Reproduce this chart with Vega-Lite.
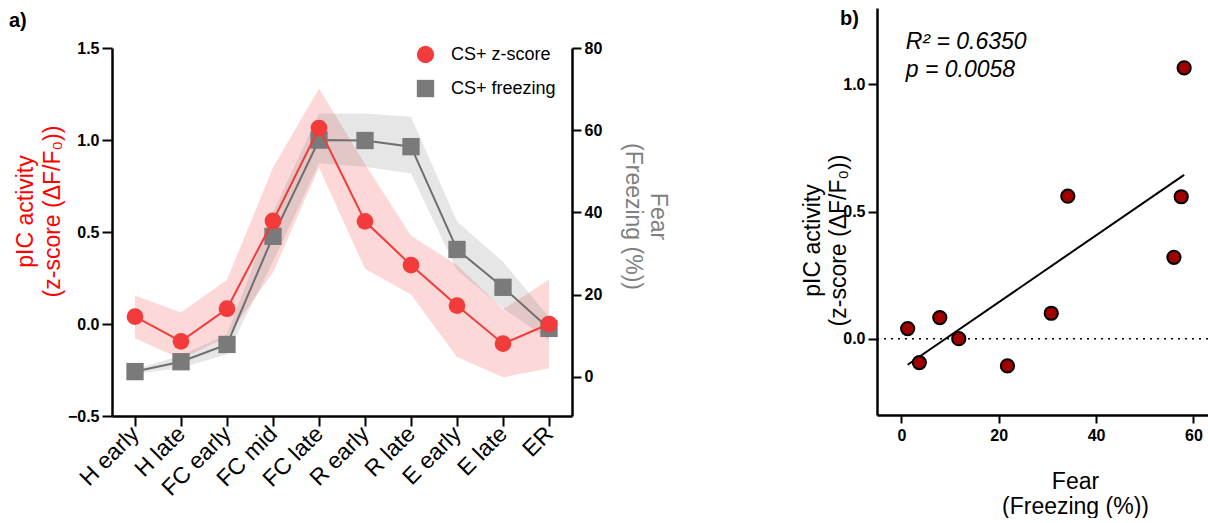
{
  "$schema": "https://vega.github.io/schema/vega-lite/v6.json",
  "padding": {"left": 9, "top": 8, "right": 0, "bottom": 0},
  "spacing": 133,
  "datasets": {
    "z": [
      {"phase": "H early", "series": "CS+ z-score", "z": 0.04, "lo": -0.078, "hi": 0.155},
      {"phase": "H late", "series": "CS+ z-score", "z": -0.094, "lo": -0.19, "hi": 0.063},
      {"phase": "FC early", "series": "CS+ z-score", "z": 0.083, "lo": -0.07, "hi": 0.24},
      {"phase": "FC mid", "series": "CS+ z-score", "z": 0.56, "lo": 0.28, "hi": 0.85},
      {"phase": "FC late", "series": "CS+ z-score", "z": 1.065, "lo": 0.85, "hi": 1.28},
      {"phase": "R early", "series": "CS+ z-score", "z": 0.558, "lo": 0.3, "hi": 0.87},
      {"phase": "R late", "series": "CS+ z-score", "z": 0.32, "lo": 0.16, "hi": 0.48},
      {"phase": "E early", "series": "CS+ z-score", "z": 0.1, "lo": -0.18, "hi": 0.32},
      {"phase": "E late", "series": "CS+ z-score", "z": -0.107, "lo": -0.29, "hi": 0.08},
      {"phase": "ER", "series": "CS+ z-score", "z": 0.0, "lo": -0.24, "hi": 0.24}
    ],
    "f": [
      {"phase": "H early", "series": "CS+ freezing", "f": 1.3, "lo": 0.8, "hi": 1.8},
      {"phase": "H late", "series": "CS+ freezing", "f": 3.7, "lo": 2.2, "hi": 5.2},
      {"phase": "FC early", "series": "CS+ freezing", "f": 7.9, "lo": 5.5, "hi": 10.3},
      {"phase": "FC mid", "series": "CS+ freezing", "f": 34.2, "lo": 28, "hi": 40},
      {"phase": "FC late", "series": "CS+ freezing", "f": 57.6, "lo": 52, "hi": 64.1},
      {"phase": "R early", "series": "CS+ freezing", "f": 57.5, "lo": 51.1, "hi": 64.1},
      {"phase": "R late", "series": "CS+ freezing", "f": 56.0, "lo": 49.5, "hi": 63.3},
      {"phase": "E early", "series": "CS+ freezing", "f": 31.0, "lo": 26, "hi": 37.8},
      {"phase": "E late", "series": "CS+ freezing", "f": 21.8, "lo": 16.7, "hi": 28},
      {"phase": "ER", "series": "CS+ freezing", "f": 11.8, "lo": 9, "hi": 14.5}
    ],
    "pairs": [
      {"phase": "H early", "fear": 1.3, "z": 0.04},
      {"phase": "H late", "fear": 3.7, "z": -0.094},
      {"phase": "FC early", "fear": 7.9, "z": 0.083},
      {"phase": "FC mid", "fear": 34.2, "z": 0.56},
      {"phase": "FC late", "fear": 58.1, "z": 1.065},
      {"phase": "R early", "fear": 57.5, "z": 0.558},
      {"phase": "R late", "fear": 56.0, "z": 0.32},
      {"phase": "E early", "fear": 30.8, "z": 0.1},
      {"phase": "E late", "fear": 21.8, "z": -0.107},
      {"phase": "ER", "fear": 11.8, "z": 0.0}
    ]
  },
  "hconcat": [
    {
      "width": 460,
      "height": 408,
      "title": {"text": "a)", "anchor": "start", "frame": "group", "orient": "top", "offset": 0, "dx": -103, "dy": 39, "baseline": "alphabetic", "fontSize": 20, "fontWeight": "bold", "font": "Liberation Sans", "color": "black"},
      "layer": [
        {
          "data": {"name": "z"},
          "mark": {"type": "area", "color": "#f23b3b", "opacity": 0.2},
          "encoding": {
            "x": {"field": "phase", "type": "ordinal", "sort": null, "scale": {"type": "point", "padding": 0.5},
              "axis": {"title": null, "labelAngle": -45, "labelAlign": "right", "labelBaseline": "middle", "labelFontSize": 23, "labelFontWeight": "normal", "labelPadding": 4, "tickSize": 10}},
            "y": {"field": "lo", "type": "quantitative", "scale": {"domain": [-0.5, 1.5], "range": [408, 40], "nice": false, "zero": false},
              "axis": {"orient": "left", "values": [-0.5, 0, 0.5, 1, 1.5], "format": ".1f", "tickSize": 10, "labelPadding": 3,
                "title": ["pIC activity", "(z-score (ΔF/F₀))"], "titleColor": "#ff0000", "titleFontSize": 23, "titleLineHeight": 27, "titleBaseline": "middle", "titleX": -87, "titleY": 203}},
            "y2": {"field": "hi"}
          }
        },
        {
          "data": {"name": "f"},
          "mark": {"type": "area", "color": "#808080", "opacity": 0.2},
          "encoding": {
            "x": {"field": "phase", "type": "ordinal", "sort": null},
            "y": {"field": "lo", "type": "quantitative", "scale": {"domain": [-9.5, 80], "range": [408, 40], "nice": false, "zero": false},
              "axis": {"orient": "right", "values": [0, 20, 40, 60, 80], "tickSize": 9, "labelPadding": 3,
                "title": ["Fear", "(Freezing (%))"], "titleColor": "#808080", "titleFontSize": 23, "titleLineHeight": 25, "titleBaseline": "middle", "titleX": 85, "titleY": 208}},
            "y2": {"field": "hi"}
          }
        },
        {
          "data": {"name": "f"},
          "mark": {"type": "line", "color": "#6e6e6e", "strokeWidth": 2},
          "encoding": {
            "x": {"field": "phase", "type": "ordinal", "sort": null},
            "y": {"field": "f", "type": "quantitative", "scale": {"domain": [-9.5, 80], "range": [408, 40], "nice": false, "zero": false}, "axis": null}
          }
        },
        {
          "data": {"name": "f"},
          "mark": {"type": "point", "filled": true, "opacity": 1, "size": 300},
          "encoding": {
            "x": {"field": "phase", "type": "ordinal", "sort": null},
            "y": {"field": "f", "type": "quantitative", "scale": {"domain": [-9.5, 80], "range": [408, 40], "nice": false, "zero": false}, "axis": null},
            "color": {"field": "series", "type": "nominal", "scale": {"domain": ["CS+ z-score", "CS+ freezing"], "range": ["#f23b3b", "#7a7a7a"]},
              "legend": {"title": null, "orient": "none", "legendX": 304, "legendY": 37, "labelFontSize": 18, "labelFont": "Liberation Sans", "labelColor": "black", "labelOffset": 16, "rowPadding": 15, "symbolSize": 300, "padding": 0}},
            "shape": {"field": "series", "type": "nominal", "scale": {"domain": ["CS+ z-score", "CS+ freezing"], "range": ["circle", "square"]},
              "legend": {"title": null, "orient": "none", "legendX": 304, "legendY": 37, "labelFontSize": 18, "labelFont": "Liberation Sans", "labelColor": "black", "labelOffset": 16, "rowPadding": 15, "symbolSize": 300, "padding": 0}}
          }
        },
        {
          "data": {"name": "z"},
          "mark": {"type": "line", "color": "#f23b3b", "strokeWidth": 2},
          "encoding": {
            "x": {"field": "phase", "type": "ordinal", "sort": null},
            "y": {"field": "z", "type": "quantitative", "scale": {"domain": [-0.5, 1.5], "range": [408, 40], "nice": false, "zero": false}, "axis": null}
          }
        },
        {
          "data": {"name": "z"},
          "mark": {"type": "point", "filled": true, "opacity": 1, "size": 280},
          "encoding": {
            "x": {"field": "phase", "type": "ordinal", "sort": null},
            "y": {"field": "z", "type": "quantitative", "scale": {"domain": [-0.5, 1.5], "range": [408, 40], "nice": false, "zero": false}, "axis": null},
            "color": {"field": "series", "type": "nominal"},
            "shape": {"field": "series", "type": "nominal"}
          }
        }
      ],
      "resolve": {"scale": {"y": "independent"}, "axis": {"y": "independent"}}
    },
    {
      "width": 331,
      "height": 407,
      "title": {"text": "b)", "anchor": "start", "frame": "group", "orient": "top", "offset": 0, "dx": -37, "dy": 37, "baseline": "alphabetic", "fontSize": 20, "fontWeight": "bold", "font": "Liberation Sans", "color": "black"},
      "layer": [
        {
          "data": {"values": [{}]},
          "mark": {"type": "rule", "color": "black", "strokeWidth": 1.5, "strokeDash": [2, 5]},
          "encoding": {"y": {"datum": 0, "type": "quantitative"}}
        },
        {
          "data": {"name": "pairs"},
          "transform": [{"regression": "z", "on": "fear"}],
          "mark": {"type": "line", "color": "black", "strokeWidth": 2},
          "encoding": {
            "x": {"field": "fear", "type": "quantitative"},
            "y": {"field": "z", "type": "quantitative"}
          }
        },
        {
          "data": {"name": "pairs"},
          "mark": {"type": "point", "filled": true, "fill": "#a00000", "stroke": "black", "strokeWidth": 2, "size": 175, "opacity": 1},
          "encoding": {
            "x": {"field": "fear", "type": "quantitative", "scale": {"domain": [-5, 63], "nice": false, "zero": false},
              "axis": {"values": [0, 20, 40, 60], "tickSize": 8, "labelPadding": 4,
                "title": ["Fear", "(Freezing (%))"], "titleFontSize": 23, "titleLineHeight": 25, "titleBaseline": "middle", "titleX": 198, "titleY": 66, "titleColor": "black"}},
            "y": {"field": "z", "type": "quantitative", "scale": {"domain": [-0.3, 1.3], "nice": false, "zero": false},
              "axis": {"values": [0, 0.5, 1], "format": ".1f", "tickSize": 9, "labelPadding": 3,
                "title": ["pIC activity", "(z-score (ΔF/F₀))"], "titleFontSize": 23, "titleLineHeight": 26, "titleBaseline": "middle", "titleX": -65, "titleY": 232, "titleColor": "black"}}
          }
        },
        {
          "data": {"values": [{}]},
          "mark": {"type": "text", "align": "left", "baseline": "alphabetic", "fontSize": 23, "fontStyle": "italic", "lineHeight": 28, "font": "Liberation Sans", "color": "black", "text": ["R² = 0.6350", "p = 0.0058"]},
          "encoding": {"x": {"datum": 0.9, "type": "quantitative"}, "y": {"datum": 1.137, "type": "quantitative"}}
        }
      ]
    }
  ],
  "config": {
    "font": "Liberation Sans",
    "view": {"stroke": null},
    "axis": {"grid": false, "domainColor": "black", "domainWidth": 2.5, "tickColor": "black", "tickWidth": 2,
      "labelFont": "Liberation Sans", "labelFontSize": 16, "labelFontWeight": "bold", "labelColor": "black",
      "titleFont": "Liberation Sans", "titleFontWeight": "normal"}
  }
}
